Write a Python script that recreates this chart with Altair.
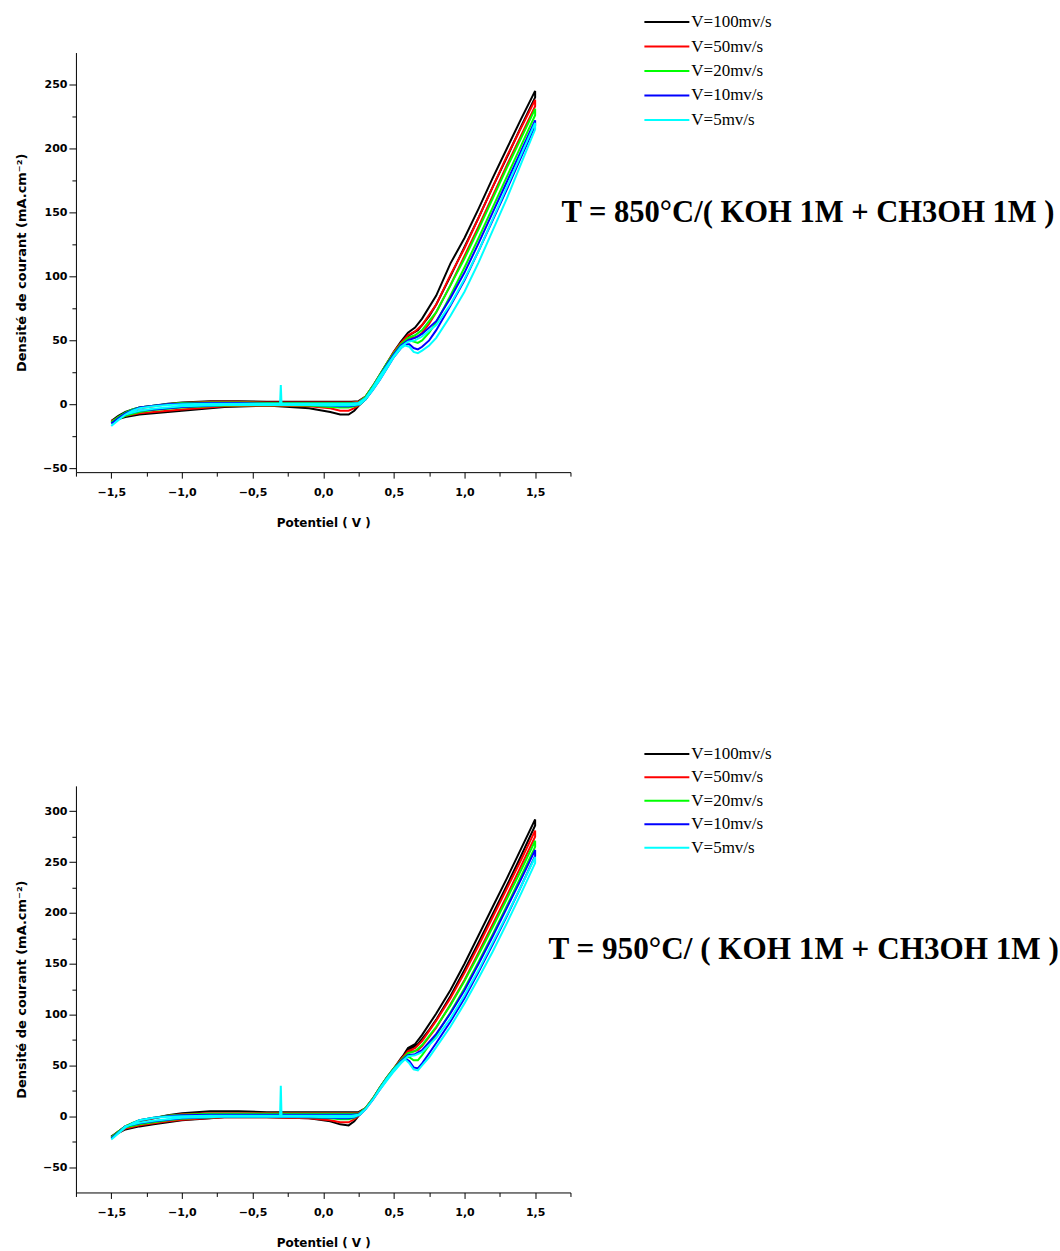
import altair as alt
import pandas as pd

# ---------------- data ----------------
SERIES = ["V=100mv/s", "V=50mv/s", "V=20mv/s", "V=10mv/s", "V=5mv/s"]
COLORS = ["#000000", "#ff0000", "#00ff00", "#0000ff", "#00ffff"]

# forward (anodic) scan potentials, V
F_V = [-1.50, -1.45, -1.40, -1.35, -1.30, -1.20, -1.10, -1.00, -0.80, -0.60,
       -0.40, -0.305, -0.300, -0.295, -0.20, 0.00, 0.10, 0.20, 0.25, 0.30,
       0.35, 0.40, 0.45, 0.50, 0.55, 0.60, 0.65, 0.70, 0.80, 0.90,
       1.00, 1.10, 1.20, 1.30, 1.40, 1.50]
# backward (cathodic) scan potentials, V
B_V = [1.50, 1.40, 1.30, 1.20, 1.10, 1.00, 0.90, 0.80, 0.75, 0.70,
       0.67, 0.64, 0.61, 0.58, 0.55, 0.50, 0.45, 0.40, 0.35, 0.30,
       0.26, 0.22, 0.18, 0.12, 0.05, -0.10, -0.40, -0.70, -1.00, -1.10,
       -1.20, -1.30, -1.40, -1.50]

# T = 850 °C  current density, mA/cm2
T850_F_100 = [-13, -9, -6, -4, -2.5, -1, 0.5, 1.5, 2.5, 2.5, 2, 2, 2, 2, 2, 2, 2, 2, 2.5, 6,
              14, 23, 32, 41, 49, 56, 60, 67, 85, 110, 130, 153, 177, 200, 223, 245]
T850_B_100 = [240, 217, 193, 170, 146, 123, 100, 78, 69, 62, 58, 56, 54, 51, 47, 40, 31, 22, 13, 5,
              0, -5, -8, -8, -6, -3, -1, -2, -5, -6, -7, -8, -10, -13]
T850_F_50 = [-14, -10, -7, -4.5, -3, -1.5, 0, 1, 2, 2, 1.5, 1.5, 1.5, 1.5, 1.5, 1.5, 1.5, 1.5, 2, 6,
             14, 23, 32, 41, 48, 54, 57, 62, 78, 101, 122, 146, 170, 194, 216, 238]
T850_B_50 = [233, 210, 187, 163, 139, 116, 93, 72, 63, 56, 53, 52, 52, 49, 46, 39, 30, 21, 12, 4,
             0, -3, -5, -5, -3, -1.5, -1, -1.5, -4, -5, -6, -7, -9, -13]
T850_F_20 = [-14, -10, -6.5, -4, -2.5, -1, 0, 1, 1.5, 1.5, 1, 1, 1, 1, 1, 1, 1, 1, 1.5, 6,
             14, 23, 32, 40, 47, 52, 54, 58, 72, 93, 114, 137, 161, 185, 208, 231]
T850_B_20 = [226, 202, 178, 154, 130, 107, 85, 64, 56, 50, 48, 49, 50, 48, 45, 38, 29, 20, 12, 4,
             0, -1.5, -2.5, -2.5, -2, -1, -0.5, -1, -2.5, -3.5, -4.5, -6, -9, -14]
T850_F_10 = [-15, -11, -7, -4.5, -2.5, -1, 0, 0.5, 1, 1, 0.5, 0.5, 0.5, 0.5, 0.5, 0.5, 0.5, 0.5, 1, 5,
             13, 22, 31, 39, 46, 50, 52, 55, 65, 83, 103, 126, 150, 174, 198, 222]
T850_B_10 = [218, 193, 168, 144, 120, 97, 77, 58, 50, 45, 43, 44, 47, 47, 44, 37, 28, 19, 11, 4,
             0, -1, -1.5, -1.5, -1, -0.5, -0.5, -0.5, -2, -3, -4, -5, -8, -15]
T850_F_5 = [-17, -12, -8, -5, -3, -1.5, -0.5, 0, 0.5, 0.5, 0.5, 0.5, 15, 0.5, 0.5, 0.5, 0.5, 0.5, 1, 5,
            13, 22, 30, 38, 45, 49, 50, 53, 62, 78, 98, 120, 145, 170, 195, 220]
T850_B_5 = [215, 188, 161, 136, 111, 88, 69, 52, 46, 42, 40, 41, 45, 46, 44, 37, 28, 19, 11, 4,
            0, -0.5, -1, -1, -1, -0.5, -0.5, -0.5, -1.5, -2.5, -3.5, -5, -8, -17]

# T = 950 °C  current density, mA/cm2
T950_F_100 = [-20, -15, -10, -7, -5, -2, 1, 3, 5, 5, 4, 4, 4, 4, 4, 4, 4, 4, 4, 8,
              17, 28, 38, 47, 56, 67, 71, 80, 101, 124, 150, 178, 206, 234, 263, 292]
T950_B_100 = [286, 256, 227, 199, 171, 144, 118, 95, 85, 76, 71, 68, 66, 62, 57, 47, 38, 28, 17, 8,
              2, -5, -9, -8, -5, -2, -1, -1, -4, -6, -8, -10, -13, -20]
T950_F_50 = [-21, -15, -10, -7, -4.5, -2, 0.5, 2, 3, 3, 3, 3, 3, 3, 3, 3, 3, 3, 3, 8,
             17, 28, 38, 47, 56, 64, 67, 74, 94, 116, 141, 168, 196, 224, 252, 281]
T950_B_50 = [275, 246, 217, 189, 161, 134, 110, 87, 78, 69, 65, 64, 63, 60, 55, 46, 37, 27, 17, 8,
             2, -3, -6, -6, -4, -2, -1, -1, -3.5, -5, -7, -9, -12, -21]
T950_F_20 = [-21, -15, -10, -6.5, -4, -1.5, 0.5, 1.5, 2.5, 2.5, 2.5, 2.5, 2.5, 2.5, 2.5, 2.5, 2.5, 2.5, 2.5, 8,
             17, 28, 38, 47, 55, 62, 64, 70, 88, 109, 133, 159, 186, 214, 242, 271]
T950_B_20 = [265, 236, 207, 179, 152, 126, 102, 80, 70, 60, 55, 55, 58, 58, 54, 46, 37, 27, 17, 8,
             2, -1.5, -3, -3, -2, -1, -0.5, -0.5, -2.5, -4, -6, -8, -11, -21]
T950_F_10 = [-22, -16, -11, -7, -4, -1.5, 0, 1, 1.5, 1.5, 1.5, 1.5, 1.5, 1.5, 1.5, 1.5, 1.5, 1.5, 2, 7,
             16, 27, 37, 46, 54, 60, 61, 65, 81, 101, 124, 150, 177, 205, 233, 262]
T950_B_10 = [256, 226, 197, 169, 142, 116, 93, 72, 62, 52, 47, 48, 54, 57, 53, 45, 36, 26, 16, 7,
             1.5, -1, -2, -2, -1.5, -1, -0.5, -0.5, -2, -3.5, -5, -7, -10, -22]
T950_F_5 = [-23, -17, -11, -7, -4, -1.5, -0.5, 0, 0.5, 0.5, 0.5, 0.5, 30, 0.5, 0.5, 0.5, 0.5, 0.5, 1.5, 7,
            16, 27, 37, 46, 53, 59, 60, 63, 77, 96, 119, 144, 171, 198, 226, 255]
T950_B_5 = [249, 219, 190, 162, 136, 111, 88, 68, 58, 50, 45, 46, 52, 56, 52, 44, 35, 26, 16, 7,
            1.5, -0.5, -1, -1, -1, -0.5, -0.5, -0.5, -1.5, -3, -4.5, -6.5, -10, -23]

X_TICKS = [-1.75, -1.5, -1.25, -1.0, -0.75, -0.5, -0.25, 0.0, 0.25, 0.5, 0.75, 1.0, 1.25, 1.5, 1.75]
Y_TICKS_850 = [-50, -25, 0, 25, 50, 75, 100, 125, 150, 175, 200, 225, 250]
Y_TICKS_950 = [-50, -25, 0, 25, 50, 75, 100, 125, 150, 175, 200, 225, 250, 275, 300]

TITLE_850 = "T = 850°C/( KOH 1M + CH3OH 1M )"
TITLE_950 = "T = 950°C/ ( KOH 1M + CH3OH 1M )"
X_TITLE = "Potentiel ( V )"
Y_TITLE = "Densité de courant (mA.cm⁻²)"


def build_frame(fwd, bwd):
    rows = []
    for name, f, b in zip(SERIES, fwd, bwd):
        k = 0
        for v, c in zip(F_V, f):
            rows.append({"series": name, "idx": k, "V": v, "I": c})
            k += 1
        for v, c in zip(B_V, b):
            rows.append({"series": name, "idx": k, "V": v, "I": c})
            k += 1
    return pd.DataFrame(rows)


def panel(df, ydom, yticks, height, title, tx, ty, tsize, legend_y, row_pad):
    lines = alt.Chart(df).mark_line(strokeWidth=2).encode(
        x=alt.X("V:Q", title=X_TITLE,
                scale=alt.Scale(domain=[-1.75, 1.75], nice=False, zero=False),
                axis=alt.Axis(values=X_TICKS, labelOverlap=False, labelFlush=False,
                              labelExpr="datum.value % 0.5 === 0 ? replace(format(datum.value, '.1f'), '.', ',') : ''",
                              tickSize={"condition": {"test": "datum.value % 0.5 === 0", "value": 6}, "value": 4},
                              labelPadding=8, titlePadding=20)),
        y=alt.Y("I:Q", title=Y_TITLE,
                scale=alt.Scale(domain=ydom, nice=False, zero=False),
                axis=alt.Axis(values=yticks, labelOverlap=False, labelFlush=False,
                              labelExpr="datum.value % 50 === 0 ? datum.label : ''",
                              tickSize={"condition": {"test": "datum.value % 50 === 0", "value": 7}, "value": 4},
                              labelPadding=2, titlePadding=14, titleFontSize=13)),
        color=alt.Color("series:N",
                        scale=alt.Scale(domain=SERIES, range=COLORS),
                        legend=alt.Legend(title=None, orient="none", legendX=568, legendY=legend_y,
                                          symbolType="stroke", symbolSize=2025, symbolStrokeWidth=2,
                                          clipHeight=17,
                                          labelFont="Liberation Serif", labelFontSize=17,
                                          labelColor="black", rowPadding=row_pad, labelOffset=1,
                                          padding=0)),
        order="idx:Q",
    )
    txt = alt.Chart(pd.DataFrame({"t": [title]})).mark_text(
        align="left", baseline="middle", font="Liberation Serif", fontWeight="bold",
        fontSize=tsize, color="black"
    ).encode(text="t:N", x=alt.value(tx), y=alt.value(ty))
    return alt.layer(lines, txt).properties(width=495, height=height)


top = panel(build_frame([T850_F_100, T850_F_50, T850_F_20, T850_F_10, T850_F_5],
                        [T850_B_100, T850_B_50, T850_B_20, T850_B_10, T850_B_5]),
            [-53, 275], Y_TICKS_850, 420, TITLE_850, 486, 161, 30.6, -39, 6.5)
bottom = panel(build_frame([T950_F_100, T950_F_50, T950_F_20, T950_F_10, T950_F_5],
                           [T950_B_100, T950_B_50, T950_B_20, T950_B_10, T950_B_5]),
               [-75, 325], Y_TICKS_950, 407, TITLE_950, 473, 164, 31.2, -40.5, 5.5)

chart = alt.vconcat(top, bottom, spacing=314, bounds="flush").resolve_scale(
    color="independent", y="independent"
).resolve_legend(color="independent").properties(
    padding={"left": 15, "top": 13, "right": 0, "bottom": 0},
    background="white",
).configure_view(stroke=None).configure_axis(
    grid=False, domainColor="black", tickColor="black", domainWidth=1, tickWidth=1,
    labelFont="DejaVu Sans", labelFontWeight="bold", labelFontSize=11, labelColor="black",
    titleFont="DejaVu Sans", titleFontWeight="bold", titleFontSize=12, titleColor="black",
)

chart.save("out.html", embed_options={"renderer": "svg", "actions": False})
